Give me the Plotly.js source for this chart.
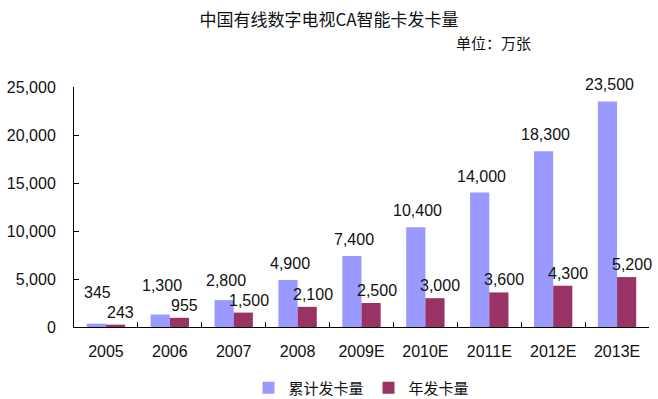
<!DOCTYPE html>
<html>
<head>
<meta charset="utf-8">
<script src="https://cdn.plot.ly/plotly-3.0.1.min.js"></script>
<style>html,body{margin:0;padding:0;background:#fff;}#chart{width:658px;height:399px;}</style>
</head>
<body>
<div id="chart"></div>
<script>
var years = ["2005", "2006", "2007", "2008", "2009E", "2010E", "2011E", "2012E", "2013E"];
var cumulative = [345, 1300, 2800, 4900, 7400, 10400, 14000, 18300, 23500];
var annual = [243, 955, 1500, 2100, 2500, 3000, 3600, 4300, 5200];
var seriesNames = ["累计发卡量", "年发卡量"];
var yTicks = [0, 5000, 10000, 15000, 20000, 25000];
var yTickText = ["0", "5,000", "10,000", "15,000", "20,000", "25,000"];

function fmt(v) { return v.toLocaleString("en-US"); }

var numFont = {family: "Liberation Sans, Arial, sans-serif", size: 16, color: "#111"};
var plotH = 240, plotW = 576, yMax = 25000, pxPerUnit = plotH / yMax;

var traces = [
  {type: "bar", name: seriesNames[0], x: years, y: cumulative, marker: {color: "#9999FF"}, hoverinfo: "none"},
  {type: "bar", name: seriesNames[1], x: years, y: annual, marker: {color: "#993366"}, hoverinfo: "none"}
];

var annotations = [];
years.forEach(function (yr, i) {
  // keep the cumulative label clear of the annual label beneath it
  var lift = Math.max(6, (annual[i] - cumulative[i]) * pxPerUnit + 22);
  annotations.push({x: i, y: cumulative[i], xref: "x", yref: "y", text: fmt(cumulative[i]),
    showarrow: false, yanchor: "bottom", xshift: -8, yshift: lift, font: numFont});
  annotations.push({x: i, y: annual[i], xref: "x", yref: "y", text: fmt(annual[i]),
    showarrow: false, yanchor: "bottom", xshift: 15, yshift: 2, font: numFont});
});
annotations.push({x: (533 - 73.5) / plotW, y: (327 - 42) / plotH, xref: "paper", yref: "paper",
  text: "单位：万张", showarrow: false, xanchor: "right", yanchor: "middle",
  font: {family: "Noto Sans CJK SC, sans-serif", size: 15, color: "#111"}});

var layout = {
  width: 658, height: 399,
  margin: {l: 73.5, r: 8.5, t: 87, b: 72, autoexpand: false},
  paper_bgcolor: "#fff", plot_bgcolor: "#fff",
  title: {text: "中国有线数字电视CA智能卡发卡量", x: 0.5, xanchor: "center", y: 1 - 20 / 399, yanchor: "middle",
    font: {family: "Noto Sans CJK SC, sans-serif", size: 17, color: "#111"}},
  barmode: "group", bargap: 0.4, bargroupgap: 0,
  showlegend: true,
  legend: {orientation: "h", x: 0.5, xanchor: "center", y: -0.254, yanchor: "middle", itemwidth: 30,
    font: {family: "Noto Sans CJK SC, sans-serif", size: 15, color: "#111"}},
  xaxis: {type: "category", range: [-0.5, 8.5], autorange: false, automargin: false, showline: true,
    linecolor: "#000", linewidth: 1, ticks: "inside", ticklen: 5, tickcolor: "#000", tickson: "boundaries",
    showgrid: false, zeroline: false, ticklabelstandoff: 10, tickangle: 0, tickfont: numFont, fixedrange: true},
  yaxis: {range: [0, yMax], autorange: false, automargin: false, tickvals: yTicks, ticktext: yTickText,
    showline: true, linecolor: "#000", linewidth: 1, ticks: "inside", ticklen: 5, tickcolor: "#000",
    showgrid: false, zeroline: false, ticklabelstandoff: 14, tickfont: numFont, fixedrange: true},
  annotations: annotations
};

Plotly.newPlot("chart", traces, layout, {displayModeBar: false, staticPlot: true});
</script>
</body>
</html>
